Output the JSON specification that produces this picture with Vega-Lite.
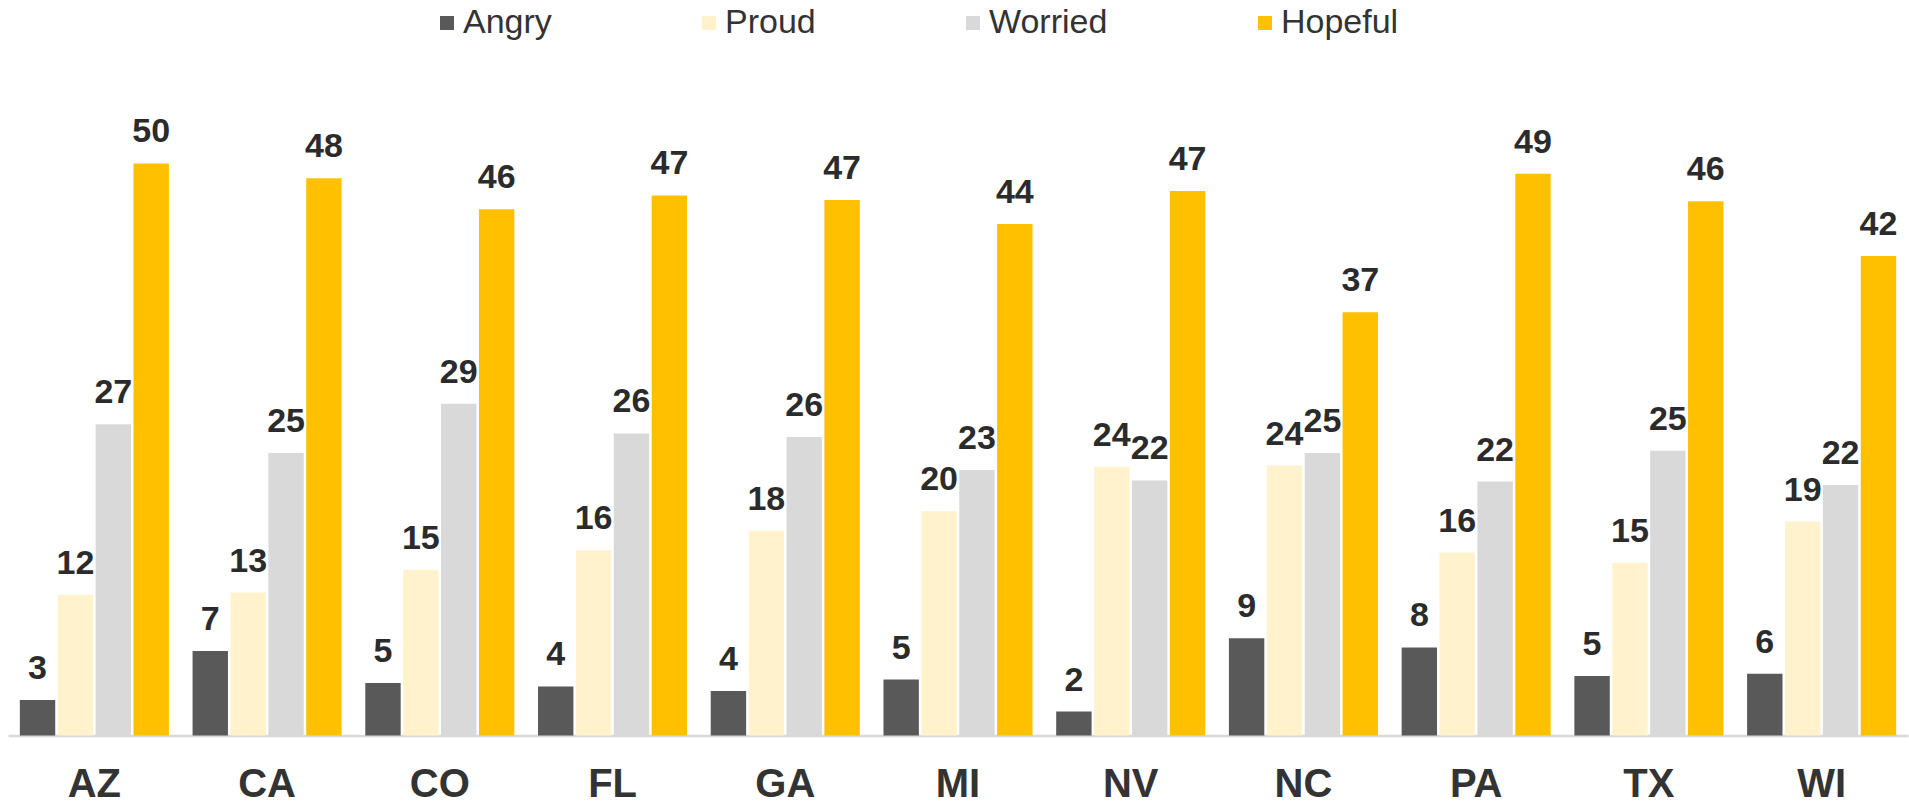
{
  "$schema": "https://vega.github.io/schema/vega-lite/v6.json",
  "autosize": "none",
  "width": 1900,
  "height": 686.6,
  "padding": {"left": 8, "top": 49, "right": 1, "bottom": 70},
  "background": "#ffffff",
  "config": {
    "view": {"stroke": null},
    "font": "Liberation Sans"
  },
  "data": {
    "values": [
      {"state": "AZ", "emotion": "Angry", "value": 3.1, "label": "3"},
      {"state": "AZ", "emotion": "Proud", "value": 12.3, "label": "12"},
      {"state": "AZ", "emotion": "Worried", "value": 27.2, "label": "27"},
      {"state": "AZ", "emotion": "Hopeful", "value": 50.0, "label": "50"},
      {"state": "CA", "emotion": "Angry", "value": 7.4, "label": "7"},
      {"state": "CA", "emotion": "Proud", "value": 12.5, "label": "13"},
      {"state": "CA", "emotion": "Worried", "value": 24.7, "label": "25"},
      {"state": "CA", "emotion": "Hopeful", "value": 48.7, "label": "48"},
      {"state": "CO", "emotion": "Angry", "value": 4.6, "label": "5"},
      {"state": "CO", "emotion": "Proud", "value": 14.5, "label": "15"},
      {"state": "CO", "emotion": "Worried", "value": 29.0, "label": "29"},
      {"state": "CO", "emotion": "Hopeful", "value": 46.0, "label": "46"},
      {"state": "FL", "emotion": "Angry", "value": 4.3, "label": "4"},
      {"state": "FL", "emotion": "Proud", "value": 16.2, "label": "16"},
      {"state": "FL", "emotion": "Worried", "value": 26.4, "label": "26"},
      {"state": "FL", "emotion": "Hopeful", "value": 47.2, "label": "47"},
      {"state": "GA", "emotion": "Angry", "value": 3.9, "label": "4"},
      {"state": "GA", "emotion": "Proud", "value": 17.9, "label": "18"},
      {"state": "GA", "emotion": "Worried", "value": 26.1, "label": "26"},
      {"state": "GA", "emotion": "Hopeful", "value": 46.8, "label": "47"},
      {"state": "MI", "emotion": "Angry", "value": 4.9, "label": "5"},
      {"state": "MI", "emotion": "Proud", "value": 19.6, "label": "20"},
      {"state": "MI", "emotion": "Worried", "value": 23.2, "label": "23"},
      {"state": "MI", "emotion": "Hopeful", "value": 44.7, "label": "44"},
      {"state": "NV", "emotion": "Angry", "value": 2.1, "label": "2"},
      {"state": "NV", "emotion": "Proud", "value": 23.5, "label": "24"},
      {"state": "NV", "emotion": "Worried", "value": 22.3, "label": "22"},
      {"state": "NV", "emotion": "Hopeful", "value": 47.6, "label": "47"},
      {"state": "NC", "emotion": "Angry", "value": 8.5, "label": "9"},
      {"state": "NC", "emotion": "Proud", "value": 23.6, "label": "24"},
      {"state": "NC", "emotion": "Worried", "value": 24.7, "label": "25"},
      {"state": "NC", "emotion": "Hopeful", "value": 37.0, "label": "37"},
      {"state": "PA", "emotion": "Angry", "value": 7.7, "label": "8"},
      {"state": "PA", "emotion": "Proud", "value": 16.0, "label": "16"},
      {"state": "PA", "emotion": "Worried", "value": 22.2, "label": "22"},
      {"state": "PA", "emotion": "Hopeful", "value": 49.1, "label": "49"},
      {"state": "TX", "emotion": "Angry", "value": 5.2, "label": "5"},
      {"state": "TX", "emotion": "Proud", "value": 15.1, "label": "15"},
      {"state": "TX", "emotion": "Worried", "value": 24.9, "label": "25"},
      {"state": "TX", "emotion": "Hopeful", "value": 46.7, "label": "46"},
      {"state": "WI", "emotion": "Angry", "value": 5.4, "label": "6"},
      {"state": "WI", "emotion": "Proud", "value": 18.7, "label": "19"},
      {"state": "WI", "emotion": "Worried", "value": 21.9, "label": "22"},
      {"state": "WI", "emotion": "Hopeful", "value": 41.9, "label": "42"}
    ]
  },
  "encoding": {
    "x": {
      "field": "state",
      "type": "nominal",
      "sort": ["AZ", "CA", "CO", "FL", "GA", "MI", "NV", "NC", "PA", "TX", "WI"],
      "scale": {"paddingInner": 0.137, "paddingOuter": 0.0685},
      "axis": {
        "title": null,
        "ticks": false,
        "labelAngle": 0,
        "labelFont": "Liberation Sans",
        "labelFontSize": 40,
        "labelFontWeight": "bold",
        "labelColor": "#333333",
        "labelBaseline": "alphabetic",
        "labelPadding": 61,
        "domainColor": "#d9d9d9",
        "domainWidth": 2.5
      }
    },
    "xOffset": {
      "field": "emotion",
      "type": "nominal",
      "sort": ["Angry", "Proud", "Worried", "Hopeful"],
      "scale": {"paddingInner": 0.066, "paddingOuter": 0}
    },
    "y": {
      "field": "value",
      "type": "quantitative",
      "scale": {"domain": [0, 60], "nice": false, "zero": true},
      "axis": null
    }
  },
  "layer": [
    {
      "mark": {"type": "bar"},
      "encoding": {
        "color": {
          "field": "emotion",
          "type": "nominal",
          "scale": {
            "domain": ["Angry", "Proud", "Worried", "Hopeful"],
            "range": ["#595959", "#FFF2CC", "#D9D9D9", "#FFC000"]
          },
          "legend": {
            "title": null,
            "orient": "none",
            "direction": "horizontal",
            "legendX": 422,
            "legendY": -43,
            "padding": 0,
            "symbolType": "square",
            "symbolSize": 196,
            "symbolStrokeWidth": 0,
            "labelFont": "Liberation Sans",
            "labelFontSize": 34,
            "labelColor": "#333333",
            "labelOffset": -1,
            "columnPadding": 140,
            "labelLimit": 400
          }
        }
      }
    },
    {
      "mark": {
        "type": "text",
        "baseline": "alphabetic",
        "dy": -21,
        "font": "Liberation Sans",
        "fontSize": 34,
        "fontWeight": "bold",
        "color": "#2b2b2b"
      },
      "encoding": {
        "text": {"field": "label", "type": "nominal"}
      }
    }
  ]
}
